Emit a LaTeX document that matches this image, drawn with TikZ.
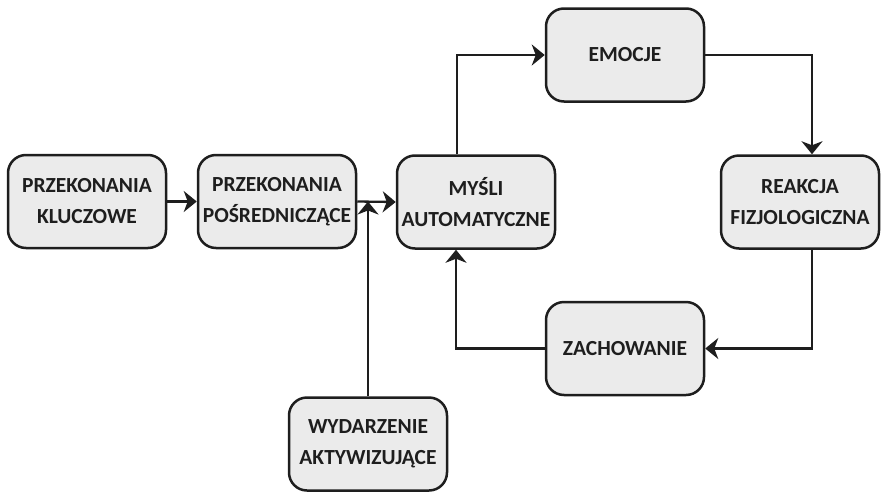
\documentclass[tikz,border=0pt]{standalone}
\usepackage{fontspec}
\setmainfont{Carlito}
\usetikzlibrary{arrows.meta}
\definecolor{boxgray}{RGB}{235,235,235}
\definecolor{ink}{RGB}{30,30,30}
\begin{document}
\begin{tikzpicture}[x=1pt,y=-1pt,
  box/.style={draw=ink, fill=boxgray, line width=2.5pt, rounded corners=18pt,
    minimum width=158pt, minimum height=93pt, align=center, inner sep=0pt,
    text=ink, font=\fontsize{21.5}{31}\selectfont\bfseries},
  arr/.style={draw=ink, line width=2.3pt, -{Stealth[length=13pt,width=21pt,inset=4pt]}}]
\useasboundingbox (0,0) rectangle (881,493);
\node[box] (kl) at (87,201.5) {PRZEKONANIA\\KLUCZOWE};
\node[box] (pos) at (277,201.5) {PRZEKONANIA\\POŚREDNICZĄCE};
\node[box] (mys) at (476,202) {MYŚLI\\AUTOMATYCZNE};
\node[box] (emo) at (625,55) {EMOCJE};
\node[box] (rea) at (800,202) {REAKCJA\\FIZJOLOGICZNA};
\node[box] (zach) at (625,348.5) {ZACHOWANIE};
\node[box] (wyd) at (368,444) {WYDARZENIE\\AKTYWIZUJĄCE};
\draw[arr] (kl.east) -- (pos.west);
\draw[arr] (pos.east) -- (mys.west);
\draw[arr] (wyd.north) -- (wyd.north |- pos.east);
\draw[arr] ([xshift=-19pt]mys.north) |- (emo.west);
\draw[arr] (emo.east) -| ([xshift=12pt]rea.north);
\draw[arr] ([xshift=12pt]rea.south) |- (zach.east);
\draw[arr] (zach.west) -| ([xshift=-20pt]mys.south);
\end{tikzpicture}
\end{document}
